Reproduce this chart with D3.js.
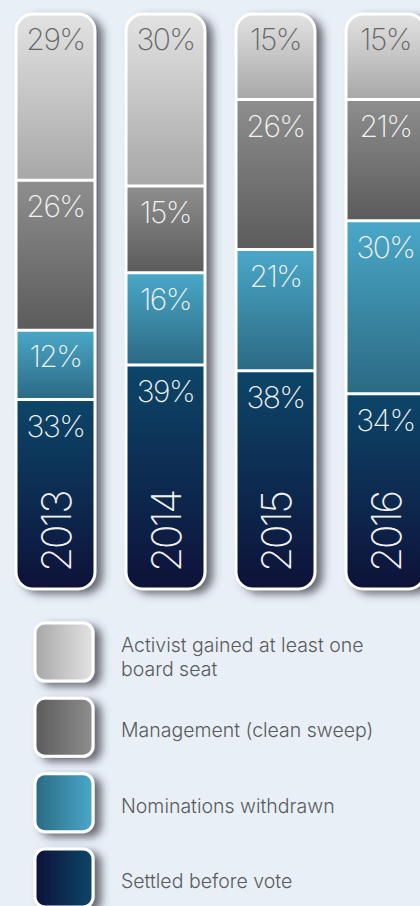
<!DOCTYPE html>
<html>
<head>
<meta charset="utf-8">
<script src="https://cdn.jsdelivr.net/npm/d3@7"></script>
<style>
  html, body { margin: 0; padding: 0; background: #e8eff7; overflow: hidden; }
  svg { display: block; }
</style>
</head>
<body>
<div id="chart"></div>
<script>
// data (percent of contests, per year)
const years = ["2013", "2014", "2015", "2016"];
const activistSeat = [29, 30, 15, 15];
const management = [26, 15, 26, 21];
const withdrawn = [12, 16, 21, 30];
const settled = [33, 39, 38, 34];

const seriesKeys = ["activist", "management", "withdrawn", "settled"];
const seriesLabels = [
  ["Activist gained at least one", "board seat"],
  ["Management (clean sweep)"],
  ["Nominations withdrawn"],
  ["Settled before vote"]
];

// colours (top -> bottom for bars, dark -> light for legend)
const colors = {
  activist:   { light: "#e3e3e3", dark: "#a7a7a7", text: "#666" },
  management: { light: "#8e8e8e", dark: "#5b5b5b", text: "#f2f2f2" },
  withdrawn:  { light: "#4aa8c8", dark: "#2b6983", text: "#f2f2f2" },
  settled:    { light: "#0c4669", dark: "#0e1138", text: "#f2f2f2" }
};

const table = years.map((y, i) => ({
  year: y,
  activist: activistSeat[i],
  management: management[i],
  withdrawn: withdrawn[i],
  settled: settled[i]
}));

const W = 420, H = 906;
const svg = d3.select("#chart").append("svg")
  .attr("width", W)
  .attr("height", H);

const defs = svg.append("defs");

// drop shadow
const shadow = defs.append("filter")
  .attr("id", "shadow")
  .attr("x", "-30%").attr("y", "-10%")
  .attr("width", "170%").attr("height", "130%");
shadow.append("feDropShadow")
  .attr("dx", 7).attr("dy", 4)
  .attr("stdDeviation", 4)
  .attr("flood-color", "#30353b")
  .attr("flood-opacity", 0.7);

// vertical gradients for bar segments, horizontal ones for legend swatches
seriesKeys.forEach(k => {
  const v = defs.append("linearGradient")
    .attr("id", "grad-v-" + k)
    .attr("x1", 0).attr("y1", 0).attr("x2", 0).attr("y2", 1);
  v.append("stop").attr("offset", "0%").attr("stop-color", colors[k].light);
  v.append("stop").attr("offset", "100%").attr("stop-color", colors[k].dark);

  const h = defs.append("linearGradient")
    .attr("id", "grad-h-" + k)
    .attr("x1", 0).attr("y1", 0).attr("x2", 1).attr("y2", 0);
  h.append("stop").attr("offset", "0%").attr("stop-color", colors[k].dark);
  h.append("stop").attr("offset", "100%").attr("stop-color", colors[k].light);
});

// scales
const x = d3.scaleBand()
  .domain(years)
  .range([15, 426])
  .paddingInner(29 / 110)
  .paddingOuter(0);

const y = d3.scaleLinear()
  .domain([0, 100])
  .range([13, 590]);

const stacked = d3.stack().keys(seriesKeys)(table);

const radius = 18;
const font = "Inter, Roboto, 'Helvetica Neue', Arial, sans-serif";

// ==========================================
// BARS
// ==========================================
const bars = svg.selectAll(".bar")
  .data(table)
  .enter().append("g")
  .attr("class", "bar");

// shadowed base
bars.append("rect")
  .attr("x", d => x(d.year))
  .attr("y", y(0))
  .attr("width", x.bandwidth())
  .attr("height", y(100) - y(0))
  .attr("rx", radius)
  .attr("fill", "#fff")
  .attr("filter", "url(#shadow)");

// clip each bar to its rounded shape
bars.each(function(d, i) {
  defs.append("clipPath")
    .attr("id", "clip-" + i)
    .append("rect")
    .attr("x", x(d.year))
    .attr("y", y(0))
    .attr("width", x.bandwidth())
    .attr("height", y(100) - y(0))
    .attr("rx", radius);
});

const inner = bars.append("g")
  .attr("clip-path", (d, i) => `url(#clip-${i})`);

// segments
stacked.forEach(layer => {
  const key = layer.key;
  inner.append("rect")
    .attr("x", (d, i) => x(d.year))
    .attr("y", (d, i) => y(layer[i][0]))
    .attr("width", x.bandwidth())
    .attr("height", (d, i) => y(layer[i][1]) - y(layer[i][0]))
    .attr("fill", `url(#grad-v-${key})`);
});

// white dividers between segments
stacked.slice(0, -1).forEach(layer => {
  inner.append("line")
    .attr("x1", d => x(d.year))
    .attr("x2", d => x(d.year) + x.bandwidth())
    .attr("y1", (d, i) => y(layer[i][1]))
    .attr("y2", (d, i) => y(layer[i][1]))
    .attr("stroke", "#fff")
    .attr("stroke-width", 3);
});

// white outline
bars.append("rect")
  .attr("x", d => x(d.year) + 1)
  .attr("y", y(0) + 1)
  .attr("width", x.bandwidth() - 2)
  .attr("height", y(100) - y(0) - 2)
  .attr("rx", radius - 1)
  .attr("fill", "none")
  .attr("stroke", "#fff")
  .attr("stroke-width", 3);

// percentage labels
stacked.forEach(layer => {
  const key = layer.key;
  bars.append("text")
    .attr("x", d => x(d.year) + x.bandwidth() / 2)
    .attr("y", (d, i) => y(layer[i][0]) + 37)
    .attr("text-anchor", "middle")
    .attr("font-family", font)
    .attr("font-weight", 200)
    .attr("font-size", 30)
    .attr("letter-spacing", -1.5)
    .attr("fill", colors[key].text)
    .text(d => d[key] + "%");
});

// rotated year labels
bars.append("text")
  .attr("transform", d => `translate(${x(d.year) + x.bandwidth() / 2 + 15},${y(100) - 18}) rotate(-90)`)
  .attr("font-family", font)
  .attr("font-weight", 200)
  .attr("font-size", 41)
  .attr("letter-spacing", -2.5)
  .attr("fill", "#f2f2f2")
  .text(d => d.year);

// ==========================================
// LEGEND
// ==========================================
const legendY = d3.scalePoint()
  .domain(seriesKeys)
  .range([652, 878]);

const legend = svg.selectAll(".legend")
  .data(seriesKeys)
  .enter().append("g")
  .attr("class", "legend")
  .attr("transform", d => `translate(0,${legendY(d)})`);

legend.append("rect")
  .attr("x", 35)
  .attr("y", -29)
  .attr("width", 58)
  .attr("height", 58)
  .attr("rx", 10)
  .attr("fill", d => `url(#grad-h-${d})`)
  .attr("stroke", "#fff")
  .attr("stroke-width", 3)
  .attr("filter", "url(#shadow)");

legend.append("text")
  .attr("font-family", font)
  .attr("font-weight", 300)
  .attr("font-size", 19.5)
  .attr("fill", "#5a5a5a")
  .each(function(d, i) {
    const lines = seriesLabels[i];
    const t = d3.select(this);
    const startY = lines.length > 1 ? 0 : 10;
    lines.forEach((line, j) => {
      t.append("tspan")
        .attr("x", 121)
        .attr("y", startY + j * 24)
        .text(line);
    });
  });
</script>
</body>
</html>
